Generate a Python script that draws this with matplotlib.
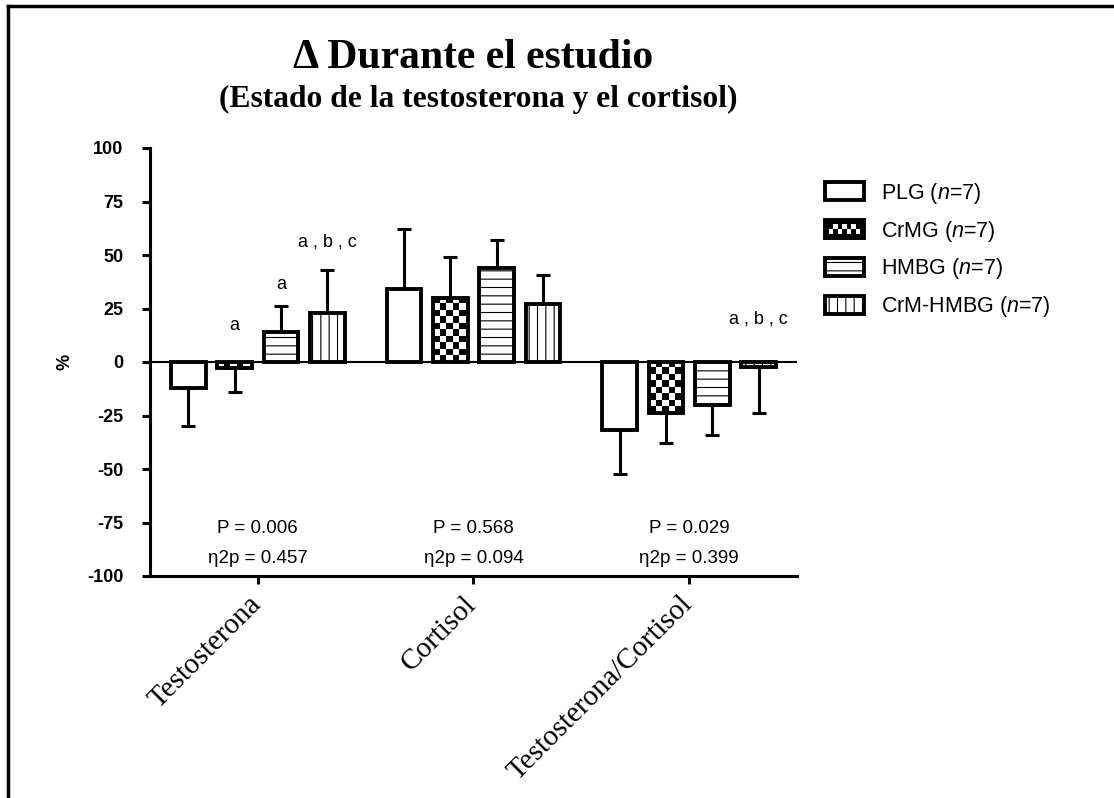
import numpy as np
import matplotlib.pyplot as plt
from matplotlib.patches import Rectangle, Patch
from matplotlib.lines import Line2D
from matplotlib.legend_handler import HandlerBase
from matplotlib.transforms import ScaledTranslation

plt.rcParams['font.family'] = ['Liberation Sans', 'DejaVu Sans']
plt.rcParams['mathtext.fontset'] = 'custom'
plt.rcParams['mathtext.rm'] = 'Liberation Sans'
plt.rcParams['mathtext.it'] = 'Liberation Sans:italic'
plt.rcParams['hatch.linewidth'] = 0.8
plt.rcParams['axes.unicode_minus'] = False

# datos (cambio en %, media y DE)
categories = ['Testosterona', 'Cortisol', 'Testosterona/Cortisol']
groups = ['PLG', 'CrMG', 'HMBG', 'CrM-HMBG']
plg_mean = [-12, 34, -32]
plg_sd = [18, 28, 20.5]
crmg_mean = [-3, 30, -24]
crmg_sd = [11, 19, 14]
hmbg_mean = [14, 44, -20]
hmbg_sd = [12, 13, 14]
crmhmbg_mean = [23, 27, -2.5]
crmhmbg_sd = [20, 13.5, 21.5]

p_values = ['0.006', '0.568', '0.029']
eta_values = ['0.457', '0.094', '0.399']
# (grupo, categoria, texto, y)
letters = [(1, 0, 'a', 17), (2, 0, 'a', 36), (3, 0, 'a , b , c', 56), (3, 2, 'a , b , c', 20)]

means = [plg_mean, crmg_mean, hmbg_mean, crmhmbg_mean]
sds = [plg_sd, crmg_sd, hmbg_sd, crmhmbg_sd]
hatches = [None, None, '--', '||']

fig = plt.figure(figsize=(11.14, 7.98), dpi=100)
ax = fig.add_axes([150 / 1114, 1 - 576 / 798, (797 - 150) / 1114, (576 - 148) / 798])

x = np.arange(len(categories))
width = 0.16
step = 0.215
cw, ch = 0.030, 3.0  # tamaño de la cuadricula

for i in range(4):
    pos = x + (i - 1.5) * step
    m = np.array(means[i], dtype=float)
    s = np.array(sds[i], dtype=float)
    lower = np.where(m < 0, s, 0)
    upper = np.where(m > 0, s, 0)
    ax.errorbar(pos, m, yerr=[lower, upper], fmt='none', ecolor='black',
                elinewidth=2.2, capsize=5, capthick=2.2, zorder=1)
    bars = ax.bar(pos, m, width, color='white', edgecolor='black',
                  hatch=hatches[i], linewidth=0, zorder=2)
    if i == 1:
        # relleno de cuadros
        for r in bars:
            x0, w, h = r.get_x(), r.get_width(), r.get_height()
            nx = int(np.ceil(w / cw))
            ny = int(np.ceil(abs(h) / ch)) + 1
            arr = np.indices((ny, nx)).sum(0) % 2
            if h >= 0:
                ext = [x0, x0 + nx * cw, 0, ny * ch]
            else:
                ext = [x0, x0 + nx * cw, -ny * ch, 0]
            im = ax.imshow(arr, cmap='gray_r', vmin=0, vmax=1, extent=ext,
                           aspect='auto', interpolation='nearest', zorder=3)
            im.set_clip_path(r)
    ax.bar(pos, m, width, facecolor='none', edgecolor='black', linewidth=2.8, zorder=4)

ax.axhline(0, color='black', lw=1.5, zorder=5)

for g, c, txt, yv in letters:
    ax.text(x[c] + (g - 1.5) * step, yv, txt, ha='center', va='center', fontsize=13)

for c in range(len(categories)):
    ax.text(x[c], -77.6, 'P = ' + p_values[c], ha='center', va='center', fontsize=13.5)
    ax.text(x[c], -91.6, 'η2p = ' + eta_values[c], ha='center', va='center', fontsize=13.5)

ax.set_xlim(-0.5, 2.5)
ax.set_ylim(-100, 100)
ax.spines[['top', 'right']].set_visible(False)
ax.spines[['left', 'bottom']].set_linewidth(2.2)
ax.set_yticks(np.arange(-100, 101, 25))
ax.tick_params(axis='y', length=6, width=2.2, labelsize=13, pad=13)
for t in ax.get_yticklabels():
    t.set_fontweight('bold')
ax.set_xticks(x)
ax.set_xticklabels(categories, rotation=45, ha='right', rotation_mode='anchor',
                   fontfamily='Liberation Serif', fontsize=21)
ax.tick_params(axis='x', length=6, width=2.2, pad=5)
# mover las etiquetas un poco a la izquierda para que terminen en la marca
for t in ax.get_xticklabels():
    t.set_transform(t.get_transform() + ScaledTranslation(-0.10, 0, fig.dpi_scale_trans))
ax.set_ylabel('%', fontweight='bold', fontsize=13, labelpad=10)

fig.text(473 / 1114, 1 - 68 / 798, 'Δ Durante el estudio', ha='center', va='baseline',
         fontfamily='Liberation Serif', fontweight='bold', fontsize=30)
fig.text(478 / 1114, 1 - 107 / 798, '(Estado de la testosterona y el cortisol)', ha='center',
         va='baseline', fontfamily='Liberation Serif', fontweight='bold', fontsize=22.7)


class CheckerHandler(HandlerBase):
    def create_artists(self, legend, orig_handle, xdescent, ydescent, width, height, fontsize, trans):
        x0, y0 = -xdescent, -ydescent
        arts = [Rectangle((x0, y0), width, height, facecolor='black', edgecolor='black',
                          lw=2.8, transform=trans)]
        n = 7
        sw = (width - 6) / n
        sh = (height - 6) / 2
        for j in range(2):
            for k in range(n):
                if (j + k) % 2 == 0:
                    arts.append(Rectangle((x0 + 3 + k * sw, y0 + 3 + j * sh), sw, sh,
                                          facecolor='white', lw=0, transform=trans))
        return arts


handles = []
for i in range(4):
    handles.append(Patch(facecolor='white', edgecolor='black', hatch=hatches[i], linewidth=2.8))
labels = [g + ' ($n$=7)' for g in groups]
fig.legend(handles, labels, loc='upper left', bbox_to_anchor=(816 / 1114, 1 - 172 / 798),
           frameon=False, fontsize=15.5, handlelength=1.85, handleheight=0.9,
           labelspacing=0.6, handletextpad=0.75, borderaxespad=0,
           handler_map={handles[1]: CheckerHandler()})

# marco
fig.add_artist(Line2D([8 / 1114, 8 / 1114], [0, 1 - 6 / 798], transform=fig.transFigure,
                      color='black', lw=2.5))
fig.add_artist(Line2D([8 / 1114, 1], [1 - 6 / 798, 1 - 6 / 798], transform=fig.transFigure,
                      color='black', lw=2.5))

fig.savefig('out.png', dpi=100)
